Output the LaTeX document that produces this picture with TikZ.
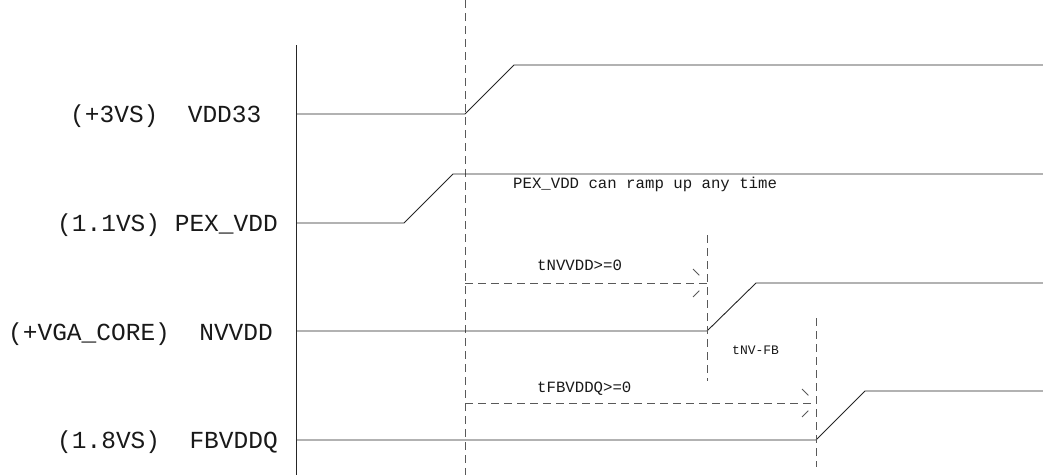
\documentclass[tikz,border=0pt]{standalone}
\usepackage{fontspec}
\setmonofont{Liberation Mono}
\tikzset{
  sig/.style={draw=black!85, line width=0.9pt},
  guide/.style={draw=black!65, line width=0.9pt, dash pattern=on 8pt off 5pt},
  wing/.style={draw=black!65, line width=0.9pt, dash pattern=on 9pt off 30pt},
  lab/.style={anchor=base west, inner sep=0pt, text=black!90, font=\ttfamily\fontsize{24.5}{26}\selectfont},
  note/.style={anchor=base west, inner sep=0pt, text=black!90, font=\ttfamily\fontsize{15.7}{17}\selectfont},
  smallnote/.style={anchor=base west, inner sep=0pt, text=black!90, font=\ttfamily\fontsize{13}{14}\selectfont},
}
\begin{document}
\begin{tikzpicture}[x=1pt,y=-1pt]
\useasboundingbox (0,0) rectangle (1043,475);
% axis
\coordinate (axtop) at (296,45);
\coordinate (axbot) at (296,475);
\draw[sig] (axtop) -- (axbot);
% reference dashed line
\coordinate (reftop) at (465,0);
\coordinate (refbot) at (465,475);
\draw[guide] (reftop) -- (refbot);
% labels
\node[lab] (l1) at (70,122) {(+3VS)\ \ VDD33};
\node[lab] (l2) at (57,231) {(1.1VS) PEX\_VDD};
\node[lab] (l3) at (8,340) {(+VGA\_CORE)\ \ NVVDD};
\node[lab] (l4) at (57,448) {(1.8VS)\ \ FBVDDQ};
% VDD33
\coordinate (a1) at (296,114); \coordinate (a2) at (465,114);
\coordinate (a3) at (514,65);  \coordinate (a4) at (1043,65);
\draw[sig] (a1) -- (a2) -- (a3) -- (a4);
% PEX_VDD
\coordinate (b1) at (296,223); \coordinate (b2) at (404,223);
\coordinate (b3) at (453,174); \coordinate (b4) at (1043,174);
\draw[sig] (b1) -- (b2) -- (b3) -- (b4);
\node[note] (pexnote) at (513,188) {PEX\_VDD can ramp up any time};
% NVVDD
\coordinate (c1) at (296,331); \coordinate (c2) at (707,331);
\coordinate (c3) at (756,283); \coordinate (c4) at (1043,283);
\draw[sig] (c1) -- (c2) -- (c3) -- (c4);
% FBVDDQ
\coordinate (d1) at (296,440); \coordinate (d2) at (816,440);
\coordinate (d3) at (865,391); \coordinate (d4) at (1043,391);
\draw[sig] (d1) -- (d2) -- (d3) -- (d4);
% NV dashed marker
\coordinate (nvtop) at (707,235); \coordinate (nvbot) at (707,381);
\draw[guide] (nvtop) -- (nvbot);
% FB dashed marker
\coordinate (fbtop) at (816,318); \coordinate (fbbot) at (816,467);
\draw[guide] (fbtop) -- (fbbot);
% tNVVDD arrow
\coordinate (t1s) at (465,283); \coordinate (t1e) at (707,283);
\draw[guide] (t1s) -- (t1e);
\coordinate (t1u) at (693,269); \coordinate (t1l) at (693,297);
\draw[wing] (t1u) -- (t1e);
\draw[wing] (t1l) -- (t1e);
\node[note] (tnv) at (537,270) {tNVVDD>=0};
% tFBVDDQ arrow
\coordinate (t2s) at (465,403); \coordinate (t2e) at (816,403);
\draw[guide] (t2s) -- (t2e);
\coordinate (t2u) at (802,389); \coordinate (t2l) at (802,417);
\draw[wing] (t2u) -- (t2e);
\draw[wing] (t2l) -- (t2e);
\node[note] (tfb) at (537,392) {tFBVDDQ>=0};
% tNV-FB
\node[smallnote] (tnvfb) at (732,354) {tNV-FB};
\end{tikzpicture}
\end{document}
